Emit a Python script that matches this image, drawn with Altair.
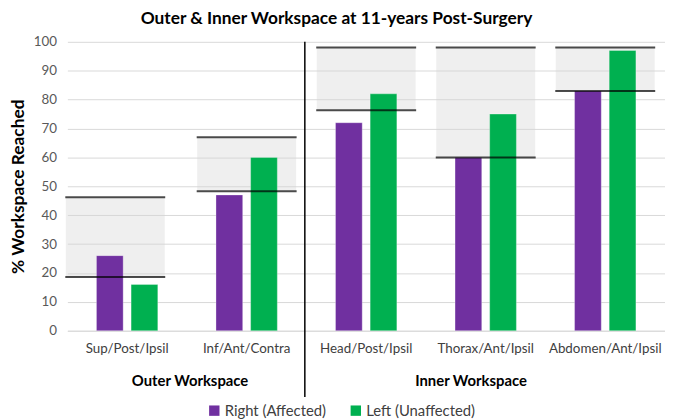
import altair as alt
import pandas as pd

categories = ["Sup/Post/Ipsil", "Inf/Ant/Contra", "Head/Post/Ipsil", "Thorax/Ant/Ipsil", "Abdomen/Ant/Ipsil"]
series = ["Right (Affected)", "Left (Unaffected)"]
right_vals = [26, 47, 72, 60, 83]
left_vals = [16, 60, 82, 75, 97]
band_low = [18.6, 48.3, 76.3, 60, 83]
band_high = [46.2, 67, 98, 98, 98]
groups = ["Outer Workspace", "Inner Workspace"]
colors = ["#7030A0", "#00B050"]
y_ticks = list(range(0, 101, 10))

bars_df = pd.DataFrame({
    "cat": categories * 2,
    "series": [series[0]] * len(categories) + [series[1]] * len(categories),
    "value": right_vals + left_vals,
})
bands_df = pd.DataFrame({"cat": categories, "lo": band_low, "hi": band_high})
groups_df = pd.DataFrame({"group": groups})

FONT = "Lato"

xscale = alt.Scale(domain=categories, paddingInner=0, paddingOuter=0)
xaxis = alt.Axis(title=None, labelAngle=0, ticks=False, domain=True, domainColor="#d9d9d9",
                 labelFontSize=13.5, labelColor="#404040", labelPadding=11, grid=False)
yscale = alt.Scale(domain=[0, 100], nice=False)
yaxis = alt.Axis(values=y_ticks, grid=True, gridColor="#d9d9d9", domain=False, ticks=False,
                 labelFontSize=13.5, labelColor="#595959", labelPadding=11,
                 title="%  Workspace Reached", titleFontSize=17.5, titleFontWeight="bold",
                 titleColor="black", titleX=-49, titleY=146, titleAngle=-90,
                 titleAlign="center", titleBaseline="middle")

X = alt.X("cat:N", scale=xscale, sort=categories, axis=xaxis)


def band_layers(df, offset):
    fill = alt.Chart(df).mark_bar(width=100, color="#d6d6d6", opacity=0.38, xOffset=offset).encode(
        x=X,
        y=alt.Y("lo:Q", scale=yscale, axis=yaxis),
        y2="hi:Q",
    )
    return fill


def line_layers(df, offset):
    lo = alt.Chart(df).mark_tick(color="black", thickness=2, size=101, xOffset=offset).encode(
        x=X, y=alt.Y("lo:Q", scale=yscale, axis=yaxis)
    )
    hi = alt.Chart(df).mark_tick(color="black", thickness=2, size=101, xOffset=offset).encode(
        x=X, y=alt.Y("hi:Q", scale=yscale, axis=yaxis)
    )
    return lo + hi


first = bands_df[bands_df["cat"] == categories[0]]
rest = bands_df[bands_df["cat"] != categories[0]]

bars = alt.Chart(bars_df).mark_bar(stroke="white", strokeWidth=0.5, strokeOpacity=0.6).encode(
    x=X,
    xOffset=alt.XOffset("series:N", sort=series,
                        scale=alt.Scale(domain=series, paddingInner=0.229, paddingOuter=0.84)),
    y=alt.Y("value:Q", scale=yscale, axis=yaxis),
    color=alt.Color("series:N", sort=series, scale=alt.Scale(domain=series, range=colors),
                    legend=alt.Legend(title=None, orient="none", legendX=141, legendY=365,
                                      direction="horizontal", symbolType="square", symbolSize=110,
                                      symbolStrokeWidth=0, labelFontSize=15, labelColor="#404040",
                                      labelFont=FONT, columnPadding=22, labelOffset=3)),
)

separator = alt.Chart(groups_df.head(1)).mark_rule(color="black", strokeWidth=1.5).encode(
    x=alt.value(240), y=alt.value(0), y2=alt.value(359)
)

outer_lbl = alt.Chart(groups_df[groups_df["group"] == groups[0]]).mark_text(
    fontSize=15, fontWeight="bold", color="black", font=FONT, baseline="middle", align="center"
).encode(text="group:N", x=alt.value(124), y=alt.value(343))

inner_lbl = alt.Chart(groups_df[groups_df["group"] == groups[1]]).mark_text(
    fontSize=15, fontWeight="bold", color="black", font=FONT, baseline="middle", align="center"
).encode(text="group:N", x=alt.value(408), y=alt.value(343))

chart = alt.layer(
    band_layers(first, -12),
    band_layers(rest, 0),
    bars,
    line_layers(first, -12),
    line_layers(rest, 0),
    separator,
    outer_lbl,
    inner_lbl,
).properties(
    width=604,
    height=292,
    autosize=alt.AutoSizeParams(type="none"),
    padding={"left": 60, "top": 32, "right": 0, "bottom": 88},
    title=alt.TitleParams("Outer & Inner Workspace at 11-years Post-Surgery", fontSize=17.5,
                          fontWeight="bold", anchor="middle", dx=-30, offset=8, color="black",
                          font=FONT),
).configure(font=FONT).configure_view(stroke=None)

chart.save("out.html", embed_options={"renderer": "svg", "actions": False})
